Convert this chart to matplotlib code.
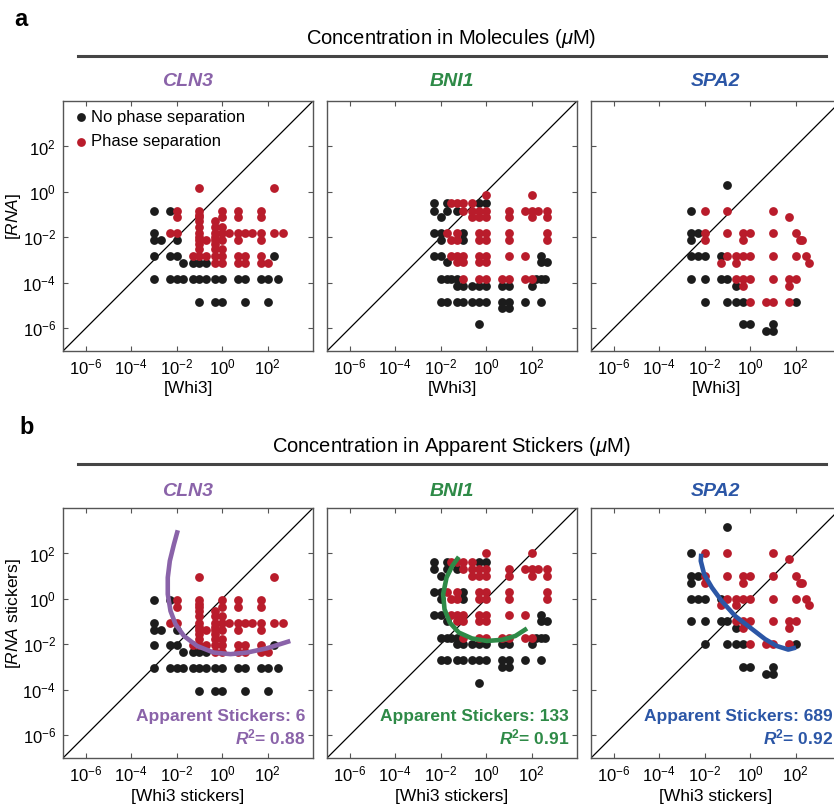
import numpy as np
import matplotlib
matplotlib.use("Agg")
import matplotlib.pyplot as plt
from matplotlib.lines import Line2D

plt.rcParams['font.family'] = ['Liberation Sans', 'DejaVu Sans']
plt.rcParams['mathtext.fontset'] = 'custom'
plt.rcParams['mathtext.rm'] = 'Liberation Sans'
plt.rcParams['mathtext.it'] = 'Liberation Sans:italic'
plt.rcParams['mathtext.bf'] = 'Liberation Sans:bold'
plt.rcParams['mathtext.bfit'] = 'Liberation Sans:bold:italic'

# ---------------- data (uM, molecules) ----------------
genes = ['CLN3', 'BNI1', 'SPA2']
gene_colors = ['#8a63a9', '#2e8a47', '#2b56a6']
stickers = [6, 133, 689]
r2 = [0.88, 0.91, 0.92]

cln3_nops = np.array([
    [1e-3, 0.15], [5e-3, 0.15], [1e-3, 0.015],
    [1e-3, 0.0075], [2e-3, 0.0075], [1e-2, 0.0075],
    [1e-3, 0.0015], [5e-3, 0.0015], [1e-2, 0.0015], [200, 0.0015],
    [2e-2, 7.5e-4], [5e-2, 7.5e-4], [0.1, 7.5e-4], [0.2, 7.5e-4],
    [1e-3, 1.5e-4], [5e-3, 1.5e-4], [1e-2, 1.5e-4], [2e-2, 1.5e-4], [5e-2, 1.5e-4],
    [0.1, 1.5e-4], [0.2, 1.5e-4], [0.5, 1.5e-4], [1, 1.5e-4], [5, 1.5e-4],
    [10, 1.5e-4], [50, 1.5e-4], [100, 1.5e-4], [300, 1.5e-4],
    [0.1, 1.5e-5], [0.5, 1.5e-5], [1, 1.5e-5], [10, 1.5e-5], [100, 1.5e-5]])
cln3_ps = np.array([
    [0.1, 1.5], [200, 1.5],
    [1e-2, 0.15], [0.1, 0.15], [1, 0.15], [5, 0.15], [50, 0.15],
    [1e-2, 0.075], [0.1, 0.075], [0.5, 0.05], [1, 0.075], [5, 0.075], [50, 0.075],
    [0.1, 0.1], [0.1, 0.05], [0.1, 0.03], [0.1, 0.015], [0.1, 0.01], [0.1, 0.0075],
    [0.1, 0.005], [0.1, 0.003], [0.1, 0.0015],
    [0.5, 0.03], [0.5, 0.015], [0.5, 0.01], [0.5, 0.0075], [0.5, 0.005],
    [0.5, 0.003], [0.5, 0.0015], [0.5, 7.5e-4],
    [1, 0.03], [1, 0.015], [1, 0.0075], [1, 0.003], [1, 0.0015], [1, 7.5e-4],
    [5e-3, 0.015], [1e-2, 0.015], [2, 0.015], [5, 0.015], [10, 0.015], [20, 0.015],
    [50, 0.015], [200, 0.015], [500, 0.015],
    [0.2, 0.0075], [5, 0.0075], [50, 0.0075],
    [5e-2, 0.0015], [0.2, 0.0015], [5, 0.0015], [10, 0.0015], [50, 0.0015],
    [5, 7.5e-4], [10, 7.5e-4], [50, 7.5e-4], [100, 7.5e-4]])

bni1_nops = np.array([
    [5e-3, 0.33], [2e-2, 0.33], [0.5, 0.33], [1, 0.33],
    [5e-3, 0.15], [2e-2, 0.15], [5e-2, 0.15], [1e-2, 0.075],
    [5e-3, 0.015], [1e-2, 0.015], [0.1, 0.015], [1e-2, 0.0075], [0.1, 0.0075],
    [5e-3, 0.0015], [1e-2, 0.0015], [2e-2, 8e-4], [250, 8e-4], [500, 8e-4], [250, 0.0015],
    [1e-2, 1.5e-4], [2e-2, 1.5e-4], [3e-2, 1.5e-4], [5e-2, 1.5e-4],
    [150, 1.5e-4], [250, 1.5e-4], [400, 1.5e-4],
    [5e-2, 7.5e-5], [0.1, 7.5e-5], [0.25, 7.5e-5], [0.5, 7.5e-5], [1, 7.5e-5],
    [5, 7.5e-5], [10, 7.5e-5], [100, 7.5e-5],
    [1e-2, 1.5e-5], [2e-2, 1.5e-5], [5e-2, 1.5e-5], [0.1, 1.5e-5], [0.25, 1.5e-5],
    [0.5, 1.5e-5], [1, 1.5e-5], [5, 1.5e-5], [10, 1.5e-5], [50, 1.5e-5], [250, 1.5e-5],
    [5, 7.5e-6], [10, 7.5e-6], [0.5, 1.5e-6]])
bni1_ps = np.array([
    [1, 0.75], [100, 0.75],
    [3e-2, 0.33], [5e-2, 0.33], [0.1, 0.33], [0.25, 0.33],
    [0.1, 0.15], [0.25, 0.15], [0.5, 0.15], [1, 0.15], [10, 0.15], [50, 0.15],
    [100, 0.15], [200, 0.15], [500, 0.15],
    [0.25, 0.075], [0.5, 0.075], [1, 0.075], [10, 0.075], [100, 0.075], [500, 0.075],
    [2e-2, 0.015], [5e-2, 0.015], [0.5, 0.015], [1, 0.015], [10, 0.015], [500, 0.015],
    [3e-2, 0.0075], [5e-2, 0.0075], [0.5, 0.0075], [1, 0.0075], [10, 0.0075], [500, 0.0075],
    [3e-2, 0.0015], [5e-2, 0.0015], [0.1, 0.0015], [0.5, 0.0015], [1, 0.0015],
    [10, 0.0015], [50, 0.0015],
    [5e-2, 8e-4], [0.1, 8e-4], [0.5, 8e-4], [1, 8e-4],
    [0.1, 1.5e-4], [0.5, 1.5e-4], [1, 1.5e-4], [5, 1.5e-4], [10, 1.5e-4],
    [50, 1.5e-4], [100, 1.5e-4]])

spa2_nops = np.array([
    [0.1, 2.1], [2.5e-3, 0.15], [2.5e-3, 0.015], [5e-3, 0.015], [2.5e-3, 0.0075],
    [2.5e-3, 0.0015], [5e-3, 0.0015], [1e-2, 0.0015], [0.05, 0.0015],
    [2.5e-3, 1.5e-4], [1e-2, 1.5e-4], [0.05, 1.5e-4], [0.1, 1.5e-4], [0.25, 7.5e-5],
    [1e-2, 1.5e-5], [0.1, 1.5e-5], [0.25, 1.5e-5], [0.5, 1.5e-5], [100, 1.5e-5],
    [0.5, 1.5e-6], [1, 1.5e-6], [5, 7.5e-7], [10, 7.5e-7], [10, 1.5e-6]])
spa2_ps = np.array([
    [1e-2, 0.15], [0.1, 0.15], [10, 0.15], [50, 0.08],
    [1e-2, 0.015], [0.1, 0.015], [0.5, 0.015], [1, 0.015], [10, 0.015], [100, 0.015],
    [1e-2, 0.0075], [0.5, 0.0075], [150, 0.0075], [200, 0.0075],
    [0.1, 0.0015], [0.25, 0.0015], [0.5, 0.0015], [1, 0.0015], [10, 0.0015],
    [100, 0.0015], [300, 0.0015],
    [0.05, 7.5e-4], [0.25, 7.5e-4], [400, 7.5e-4],
    [0.25, 1.5e-4], [0.5, 1.5e-4], [1, 1.5e-4], [10, 1.5e-4], [50, 1.5e-4], [100, 1.5e-4],
    [0.5, 7.5e-5], [50, 7.5e-5],
    [1, 1.5e-5], [5, 1.5e-5], [10, 1.5e-5], [50, 1.5e-5]])

# fitted boundaries in sticker space, log10 values
cln3_fit = np.array([
    [-1.95, 3.02], [-2.12, 2.40], [-2.30, 1.67], [-2.39, 0.94], [-2.39, 0.21],
    [-2.27, -0.53], [-2.05, -1.11], [-1.68, -1.63], [-1.10, -2.07], [-0.37, -2.36],
    [0.37, -2.43], [1.10, -2.36], [1.98, -2.17], [3.0, -1.85]])
bni1_fit = np.array([
    [-1.20, 1.85], [-1.49, 1.45], [-1.74, 0.94], [-1.89, 0.21], [-1.83, -0.45],
    [-1.60, -1.04], [-1.20, -1.48], [-0.62, -1.74], [0.04, -1.85], [0.70, -1.80],
    [1.29, -1.63], [1.80, -1.30]])
spa2_fit = np.array([
    [-2.15, 1.99], [-2.17, 1.67], [-2.02, 1.08], [-1.68, 0.50], [-1.25, -0.09],
    [-0.66, -0.75], [0.0, -1.26], [0.66, -1.77], [1.17, -2.07], [1.68, -2.23],
    [2.02, -2.14]])

nops_sets = [cln3_nops, bni1_nops, spa2_nops]
ps_sets = [cln3_ps, bni1_ps, spa2_ps]
fits = [cln3_fit, bni1_fit, spa2_fit]

tick_vals = [1e-6, 1e-4, 1e-2, 1, 1e2]
tick_labels = [r'$10^{-6}$', r'$10^{-4}$', r'$10^{-2}$', r'$10^{0}$', r'$10^{2}$']

BLACK = '#1c1c1c'
RED = '#b91c2b'
SPINE = '#555555'
DOT = 40

W, H = 834, 808
fig = plt.figure(figsize=(W / 100, H / 100), dpi=100)


def add_ax(left, top, size=250):
    return fig.add_axes([left / W, 1 - (top + size) / H, size / W, size / H])


def style(ax, first):
    ax.set_xscale('log')
    ax.set_yscale('log')
    ax.set_xlim(1e-7, 1e4)
    ax.set_ylim(1e-7, 1e4)
    ax.plot([1e-7, 1e4], [1e-7, 1e4], color='k', lw=0.9, zorder=1)
    ax.set_xticks(tick_vals)
    ax.set_xticklabels(tick_labels)
    ax.set_yticks(tick_vals)
    if first:
        ax.set_yticklabels(tick_labels)
    else:
        ax.set_yticklabels([])
    ax.minorticks_off()
    ax.tick_params(direction='in', top=True, right=True, length=3.5, width=0.8,
                   color=SPINE, labelsize=12, pad=5)
    for s in ax.spines.values():
        s.set_color(SPINE)
        s.set_linewidth(1.0)


lefts = [63, 327, 591]

# ---------------- headers ----------------
fig.text(21 / W, 1 - 20 / H, 'a', fontsize=17, fontweight='bold', ha='center', va='center')
fig.text(27 / W, 1 - 428 / H, 'b', fontsize=17, fontweight='bold', ha='center', va='center')
fig.text(451 / W, 1 - 38 / H, r'Concentration in Molecules ($\mathit{\mu}$M)',
         fontsize=14.5, ha='center', va='center')
fig.text(451 / W, 1 - 446 / H, r'Concentration in Apparent Stickers ($\mathit{\mu}$M)',
         fontsize=14.5, ha='center', va='center')
for yy in [56, 464]:
    fig.add_artist(Line2D([78 / W, 826 / W], [1 - yy / H, 1 - yy / H], color='#454545', lw=2.2))

# ---------------- panel a ----------------
for i, g in enumerate(genes):
    ax = add_ax(lefts[i], 101)
    style(ax, i == 0)
    nops, ps = nops_sets[i], ps_sets[i]
    ax.scatter(nops[:, 0], nops[:, 1], s=DOT, color=BLACK, linewidths=0, zorder=2,
               label='No phase separation')
    ax.scatter(ps[:, 0], ps[:, 1], s=DOT, color=RED, linewidths=0, zorder=3,
               label='Phase separation')
    ax.set_xlabel('[Whi3]', fontsize=12.5, labelpad=2)
    if i == 0:
        ax.set_ylabel(r'[$\mathit{RNA}$]', fontsize=12.5)
        ax.yaxis.set_label_coords(-0.16, 0.54)
        ax.legend(loc='upper left', bbox_to_anchor=(0.035, 0.985), frameon=False,
                  fontsize=12, handlelength=0.5, handletextpad=0.35, labelspacing=0.55,
                  borderaxespad=0.0, borderpad=0.3)
    fig.text((lefts[i] + 125) / W, 1 - 82 / H, g, fontsize=14, fontweight='bold',
             fontstyle='italic', color=gene_colors[i], ha='center', va='center')

# ---------------- panel b ----------------
for i, g in enumerate(genes):
    ax = add_ax(lefts[i], 508)
    style(ax, i == 0)
    nops, ps = nops_sets[i], ps_sets[i]
    n = stickers[i]
    ax.scatter(nops[:, 0], nops[:, 1] * n, s=DOT, color=BLACK, linewidths=0, zorder=2)
    ax.scatter(ps[:, 0], ps[:, 1] * n, s=DOT, color=RED, linewidths=0, zorder=3)
    fit = fits[i]
    ax.plot(10 ** fit[:, 0], 10 ** fit[:, 1], color=gene_colors[i], lw=3.3,
            solid_capstyle='butt', zorder=4)
    ax.set_xlabel('[Whi3 stickers]', fontsize=12.5, labelpad=3)
    if i == 0:
        ax.set_ylabel(r'[$\mathit{RNA}$ stickers]', fontsize=12.5)
        ax.yaxis.set_label_coords(-0.16, 0.576)
    ax.text(0.968, 0.168, f'Apparent Stickers: {n}', transform=ax.transAxes,
            ha='right', va='center', fontsize=12.5, fontweight='bold',
            color=gene_colors[i], zorder=5)
    ax.text(0.968, 0.084, r'$\mathbfit{R}^{\mathbf{2}}$' + f'= {r2[i]:.2f}',
            transform=ax.transAxes, ha='right', va='center', fontsize=12.5,
            fontweight='bold', color=gene_colors[i], zorder=5)
    fig.text((lefts[i] + 125) / W, 1 - 492 / H, g, fontsize=14, fontweight='bold',
             fontstyle='italic', color=gene_colors[i], ha='center', va='center')

fig.savefig('out.png', dpi=100)
